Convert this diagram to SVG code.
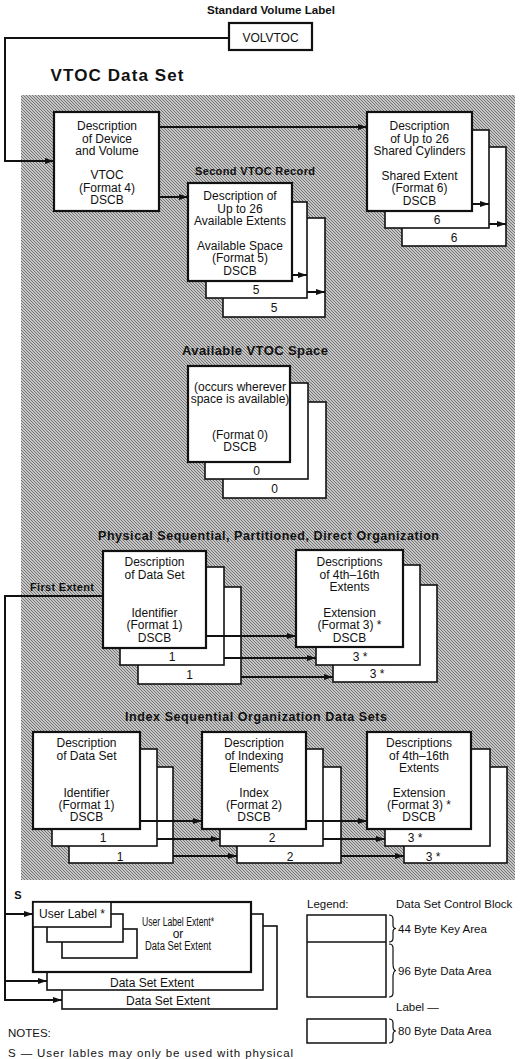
<svg xmlns="http://www.w3.org/2000/svg" width="528" height="1059" viewBox="0 0 528 1059">
<style>
text{font-family:"Liberation Sans",Arial,Helvetica,sans-serif;fill:#111}
.t{font-size:12px;text-anchor:middle}
.h{font-weight:bold}
.f{fill:#fff;stroke:#111;stroke-width:2.2}
.k{fill:#fff;stroke:#111;stroke-width:1.6}
.c{fill:none;stroke:#111;stroke-width:2}
.a{marker-end:url(#ah)}
.lg{font-size:11.5px}
.br{fill:none;stroke:#111;stroke-width:1.2}
</style>
<defs>
<pattern id="ht" width="3" height="3" patternUnits="userSpaceOnUse"><rect width="3" height="3" fill="#c6c6c6"/><path d="M0,0h1v1h-1zM1,1h1v1h-1zM2,2h1v1h-1z" fill="#747474"/></pattern>
<marker id="ah" markerWidth="9" markerHeight="6" refX="9" refY="3" orient="auto" markerUnits="userSpaceOnUse"><path d="M0,0L9,3L0,6z" fill="#111"/></marker>
</defs>
<rect width="528" height="1059" fill="#fff"/>
<rect id="vtoc-area" x="21" y="95" width="494" height="785" fill="url(#ht)"/>

<g id="titles">
<text x="271" y="14" class="h" font-size="11" text-anchor="middle" textLength="128" lengthAdjust="spacingAndGlyphs">Standard Volume Label</text>
<text x="50.5" y="81" class="h" font-size="17" textLength="133" lengthAdjust="spacing">VTOC Data Set</text>
<text x="255" y="175" class="h" font-size="11" text-anchor="middle" textLength="120" lengthAdjust="spacing">Second VTOC Record</text>
<text x="255" y="355" class="h" font-size="13" text-anchor="middle" textLength="146" lengthAdjust="spacing">Available VTOC Space</text>
<text x="268.5" y="540" class="h" font-size="12.5" text-anchor="middle" textLength="341" lengthAdjust="spacing">Physical Sequential, Partitioned, Direct Organization</text>
<text x="256" y="721" class="h" font-size="12.5" text-anchor="middle" textLength="262" lengthAdjust="spacing">Index Sequential Organization Data Sets</text>
<text x="30" y="591" class="h" font-size="11" textLength="64" lengthAdjust="spacing">First Extent</text>
</g>

<g id="volvtoc">
<rect class="f" x="229" y="23" width="83" height="27"/>
<text class="t" x="270.5" y="42" font-size="11.5">VOLVTOC</text>
</g>

<g id="format4">
<rect class="f" x="54" y="112" width="105" height="99"/>
<text class="t" x="107" y="130">Description</text>
<text class="t" x="107" y="142.5">of Device</text>
<text class="t" x="107" y="155">and Volume</text>
<text class="t" x="107" y="179">VTOC</text>
<text class="t" x="107" y="191.5">(Format 4)</text>
<text class="t" x="107" y="204">DSCB</text>
</g>

<g id="format6">
<rect class="k" x="402" y="147" width="104" height="99"/>
<rect class="k" x="385" y="130" width="104" height="98"/>
<rect class="f" x="367" y="112" width="105" height="99"/>
<text class="t" x="419.5" y="130">Description</text>
<text class="t" x="419.5" y="142.5">of Up to 26</text>
<text class="t" x="419.5" y="155">Shared Cylinders</text>
<text class="t" x="419.5" y="179.5">Shared Extent</text>
<text class="t" x="419.5" y="192">(Format 6)</text>
<text class="t" x="419.5" y="205">DSCB</text>
<text class="t" x="437" y="224">6</text>
<text class="t" x="454" y="241.5">6</text>
</g>

<g id="format5">
<rect class="k" x="223" y="218" width="102" height="99"/>
<rect class="k" x="206" y="202" width="101" height="96"/>
<rect class="f" x="188" y="183" width="104" height="98"/>
<text class="t" x="240" y="200">Description of</text>
<text class="t" x="240" y="212.5">Up to 26</text>
<text class="t" x="240" y="225">Available Extents</text>
<text class="t" x="240" y="250">Available Space</text>
<text class="t" x="240" y="262">(Format 5)</text>
<text class="t" x="240" y="274.5">DSCB</text>
<text class="t" x="256" y="293.5">5</text>
<text class="t" x="274" y="311.5">5</text>
</g>

<g id="format0">
<rect class="k" x="223" y="402" width="103" height="96"/>
<rect class="k" x="205" y="383" width="103" height="96"/>
<rect class="f" x="188" y="366" width="102" height="96"/>
<text class="t" x="240" y="391">(occurs wherever</text>
<text class="t" x="240" y="403">space is available)</text>
<text class="t" x="240" y="439">(Format 0)</text>
<text class="t" x="240" y="451">DSCB</text>
<text class="t" x="256.5" y="474.5">0</text>
<text class="t" x="274.5" y="492.5">0</text>
</g>

<g id="ps-format1">
<rect class="k" x="138" y="587" width="103" height="97"/>
<rect class="k" x="120" y="567" width="104" height="98"/>
<rect class="f" x="103" y="551" width="103" height="97"/>
<text class="t" x="154.5" y="566">Description</text>
<text class="t" x="154.5" y="578.5">of Data Set</text>
<text class="t" x="154.5" y="616.5">Identifier</text>
<text class="t" x="154.5" y="629">(Format 1)</text>
<text class="t" x="154.5" y="641.5">DSCB</text>
<text class="t" x="172" y="660.5">1</text>
<text class="t" x="189.5" y="678.5">1</text>
</g>

<g id="ps-format3">
<rect class="k" x="333" y="585" width="104" height="97"/>
<rect class="k" x="316" y="565" width="104" height="100"/>
<rect class="f" x="296" y="550" width="107" height="97"/>
<text class="t" x="349.5" y="566">Descriptions</text>
<text class="t" x="349.5" y="578.5">of 4th–16th</text>
<text class="t" x="349.5" y="591">Extents</text>
<text class="t" x="349.5" y="616.5">Extension</text>
<text class="t" x="349.5" y="629">(Format 3) *</text>
<text class="t" x="349.5" y="641.5">DSCB</text>
<text class="t" x="360" y="660.5">3 *</text>
<text class="t" x="377" y="678">3 *</text>
</g>

<g id="is-format1">
<rect class="k" x="69" y="767" width="104" height="96"/>
<rect class="k" x="52" y="749" width="105" height="97"/>
<rect class="f" x="33" y="732" width="107" height="97"/>
<text class="t" x="86.5" y="747">Description</text>
<text class="t" x="86.5" y="760">of Data Set</text>
<text class="t" x="86.5" y="797">Identifier</text>
<text class="t" x="86.5" y="809">(Format 1)</text>
<text class="t" x="86.5" y="821">DSCB</text>
<text class="t" x="103" y="842">1</text>
<text class="t" x="120" y="861">1</text>
</g>

<g id="is-format2">
<rect class="k" x="237" y="767" width="104" height="96"/>
<rect class="k" x="220" y="749" width="103" height="97"/>
<rect class="f" x="202" y="732" width="104" height="97"/>
<text class="t" x="254" y="747">Description</text>
<text class="t" x="254" y="760">of Indexing</text>
<text class="t" x="254" y="772">Elements</text>
<text class="t" x="254" y="797">Index</text>
<text class="t" x="254" y="809">(Format 2)</text>
<text class="t" x="254" y="821">DSCB</text>
<text class="t" x="272" y="842">2</text>
<text class="t" x="290" y="861">2</text>
</g>

<g id="is-format3">
<rect class="k" x="404" y="767" width="103" height="96"/>
<rect class="k" x="385" y="749" width="105" height="97"/>
<rect class="f" x="367" y="732" width="104" height="97"/>
<text class="t" x="419" y="747">Descriptions</text>
<text class="t" x="419" y="760">of 4th–16th</text>
<text class="t" x="419" y="772">Extents</text>
<text class="t" x="419" y="797">Extension</text>
<text class="t" x="419" y="809">(Format 3) *</text>
<text class="t" x="419" y="821">DSCB</text>
<text class="t" x="415" y="842">3 *</text>
<text class="t" x="433" y="861">3 *</text>
</g>

<g id="user-label">
<rect class="k" x="62" y="926" width="215" height="83"/>
<rect class="k" x="47" y="914" width="216" height="76"/>
<rect class="f" x="33" y="902" width="218" height="70"/>
<rect class="k" x="62" y="929" width="75" height="29"/>
<rect class="k" x="47" y="914" width="76" height="28"/>
<rect class="k" x="33" y="902" width="78" height="25"/>
<text class="t" x="72" y="918" font-size="11.5">User Label *</text>
<text class="t" x="178" y="926" font-size="10.5" textLength="72" lengthAdjust="spacingAndGlyphs">User Label Extent*</text>
<text class="t" x="178" y="938" font-size="10.5">or</text>
<text class="t" x="178" y="950" font-size="10.5" textLength="66" lengthAdjust="spacingAndGlyphs">Data Set Extent</text>
<text class="t" x="152" y="987" font-size="11.5">Data Set Extent</text>
<text class="t" x="168" y="1005" font-size="11.5">Data Set Extent</text>
<text x="18" y="899" class="h" font-size="11" text-anchor="middle">S</text>
</g>

<g id="legend">
<text class="lg" x="307" y="908">Legend:</text>
<text class="lg" x="396" y="908">Data Set Control Block</text>
<rect x="307" y="915" width="79" height="82" fill="#fff" stroke="#111" stroke-width="1.5"/>
<line x1="307" y1="942" x2="386" y2="942" stroke="#111" stroke-width="1.5"/>
<path class="br" d="M389,915q4,0 4,4v6q0,3.5 3,3.5q-3,0 -3,3.5v6q0,4 -4,4"/>
<path class="br" d="M389,944q4,0 4,4v15q0,7.5 3,7.5q-3,0 -3,7.5v15q0,4 -4,4"/>
<text class="lg" x="398" y="933">44 Byte Key Area</text>
<text class="lg" x="398" y="975">96 Byte Data Area</text>
<text class="lg" x="396" y="1011">Label —</text>
<rect x="307" y="1019" width="79" height="24" fill="#fff" stroke="#111" stroke-width="1.5"/>
<path class="br" d="M389,1019q4,0 4,4v4q0,4 3,4q-3,0 -3,4v4q0,4 -4,4"/>
<text class="lg" x="398" y="1035">80 Byte Data Area</text>
</g>

<g id="notes">
<text x="8" y="1037" font-size="11.5">NOTES:</text>
<text x="8" y="1057" font-size="11.5" textLength="285" lengthAdjust="spacing">S — User lables may only be used with physical</text>
</g>

<g id="connectors">
<path class="c a" d="M229,38H5V161H54"/>
<path class="c a" d="M159,127H367"/>
<path class="c a" d="M159,197H188"/>
<path class="c a" d="M292,275H307"/>
<path class="c a" d="M307,292H325"/>
<path class="c a" d="M472,204H489"/>
<path class="c a" d="M489,224H506"/>
<path class="c a" d="M206,636H296"/>
<path class="c a" d="M224,658H316"/>
<path class="c a" d="M241,677H333"/>
<path class="c a" d="M103,596H5V1000H62"/>
<path class="c a" d="M5,914H33"/>
<path class="c a" d="M5,981H47"/>
<path class="c a" d="M140,821H202"/>
<path class="c a" d="M157,839H220"/>
<path class="c a" d="M173,856H237"/>
<path class="c a" d="M306,821H367"/>
<path class="c a" d="M323,839H385"/>
<path class="c a" d="M341,856H404"/>
</g>
</svg>
